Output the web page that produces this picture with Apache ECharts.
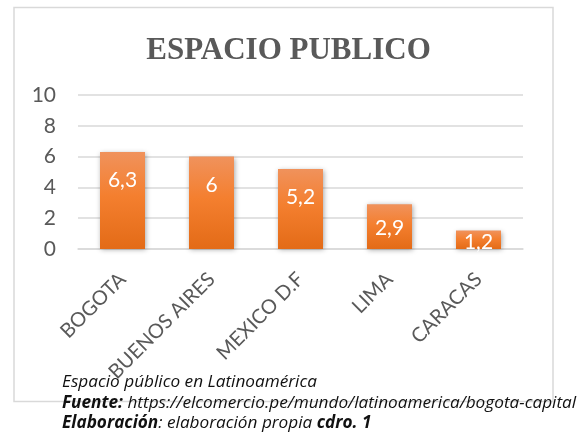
<!DOCTYPE html>
<html>
<head>
<meta charset="utf-8">
<script src="https://cdn.jsdelivr.net/npm/echarts@6/dist/echarts.min.js"></script>
<style>
html,body{margin:0;padding:0;background:#fff;}
#chart{width:587px;height:438px;}
</style>
</head>
<body>
<div id="chart"></div>
<script>
const titleText = 'ESPACIO PUBLICO';
const categories = ['BOGOTA', 'BUENOS AIRES', 'MEXICO D.F', 'LIMA', 'CARACAS'];
const values = [6.3, 6, 5.2, 2.9, 1.2];
const yTicks = [0, 2, 4, 6, 8, 10];
const captionLine1 = 'Espacio público en Latinoamérica';
const captionLine2Bold = 'Fuente:';
const captionLine2 = ' https://elcomercio.pe/mundo/latinoamerica/bogota-capital';
const captionLine3Bold = 'Elaboración';
const captionLine3 = ': elaboración propia ';
const captionLine3Bold2 = 'cdro. 1';

const chart = echarts.init(document.getElementById('chart'), null, {renderer: 'canvas'});

const sans = 'Lato, "Liberation Sans", sans-serif';
const capFont = '"Open Sans", "Liberation Sans", sans-serif';
const capSize = 17.2;

const option = {
  backgroundColor: '#ffffff',
  animation: false,
  title: {
    text: titleText,
    left: 283.5,
    textAlign: 'center',
    top: 30,
    textStyle: {
      fontFamily: '"Liberation Serif", "Times New Roman", serif',
      fontWeight: 'bold',
      fontSize: 31,
      color: '#595959'
    }
  },
  grid: {left: 78, right: 64, top: 95, bottom: 189},
  xAxis: {
    type: 'category',
    data: categories,
    axisLine: {show: true, lineStyle: {color: '#d9d9d9', width: 1.5}},
    axisTick: {show: false},
    axisLabel: {
      interval: 0,
      rotate: 45,
      margin: 27,
      color: '#595959',
      fontFamily: sans,
      fontSize: 20
    }
  },
  yAxis: {
    type: 'value',
    min: yTicks[0],
    max: yTicks[yTicks.length - 1],
    interval: yTicks[1] - yTicks[0],
    axisLine: {show: false},
    axisTick: {show: false},
    splitLine: {lineStyle: {color: '#d9d9d9', width: 1.5}},
    axisLabel: {
      margin: 22,
      color: '#595959',
      fontFamily: sans,
      fontSize: 21
    }
  },
  series: [{
    type: 'bar',
    barWidth: 45,
    data: values.map(v => ({
      value: v,
      label: v >= 4 ? {position: 'insideTop', distance: 18} : {position: 'inside', offset: [0, 2]}
    })),
    itemStyle: {
      color: new echarts.graphic.LinearGradient(0, 0, 0, 1, [
        {offset: 0, color: '#F0925C'},
        {offset: 0.45, color: '#F47F2F'},
        {offset: 1, color: '#E36B17'}
      ]),
      shadowBlur: 5,
      shadowColor: 'rgba(0,0,0,0.35)',
      shadowOffsetX: 1,
      shadowOffsetY: 1
    },
    label: {
      show: true,
      color: '#ffffff',
      fontFamily: sans,
      fontSize: 21,
      formatter: p => String(p.value).replace('.', ',')
    }
  }],
  graphic: [
    {
      type: 'rect',
      z: -10,
      shape: {x: 14, y: 7.5, width: 539, height: 394},
      style: {fill: '#ffffff', stroke: '#d9d9d9', lineWidth: 1.5}
    },
    {
      type: 'text',
      z: 100,
      left: 62,
      top: 374,
      style: {
        text: captionLine1,
        font: 'italic ' + capSize + 'px "Open Sans", "Liberation Sans", sans-serif',
        fill: '#111111'
      }
    },
    {
      type: 'text',
      z: 100,
      left: 62,
      top: 395,
      style: {
        text: '{b|' + captionLine2Bold + '}{n|' + captionLine2 + '}',
        rich: {
          b: {fontFamily: capFont, fontStyle: 'italic', fontWeight: 'bold', fontSize: capSize, fill: '#111111', color: '#111111'},
          n: {fontFamily: capFont, fontStyle: 'italic', fontSize: capSize, fill: '#111111', color: '#111111'}
        }
      }
    },
    {
      type: 'text',
      z: 100,
      left: 62,
      top: 415,
      style: {
        text: '{b|' + captionLine3Bold + '}{n|' + captionLine3 + '}{b|' + captionLine3Bold2 + '}',
        rich: {
          b: {fontFamily: capFont, fontStyle: 'italic', fontWeight: 'bold', fontSize: capSize, fill: '#111111', color: '#111111'},
          n: {fontFamily: capFont, fontStyle: 'italic', fontSize: capSize, fill: '#111111', color: '#111111'}
        }
      }
    }
  ]
};

chart.setOption(option);
</script>
</body>
</html>
